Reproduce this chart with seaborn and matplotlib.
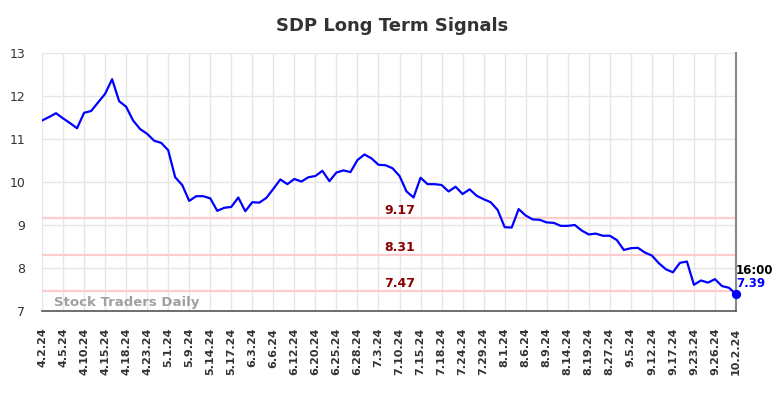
import numpy as np
import pandas as pd
import matplotlib
matplotlib.use("Agg")
import matplotlib.pyplot as plt
import seaborn as sns

# --- data ---
tick_labels = ["4.2.24", "4.5.24", "4.10.24", "4.15.24", "4.18.24", "4.23.24", "5.1.24",
               "5.9.24", "5.14.24", "5.17.24", "6.3.24", "6.6.24", "6.12.24", "6.20.24",
               "6.25.24", "6.28.24", "7.3.24", "7.10.24", "7.15.24", "7.18.24", "7.24.24",
               "7.29.24", "8.1.24", "8.6.24", "8.9.24", "8.14.24", "8.19.24", "8.27.24",
               "9.5.24", "9.12.24", "9.17.24", "9.23.24", "9.26.24", "10.2.24"]

prices = [11.43, 11.51, 11.60, 11.48, 11.37, 11.25, 11.61, 11.65, 11.85, 12.05,
          12.39, 11.88, 11.75, 11.43, 11.23, 11.12, 10.96, 10.91, 10.74, 10.11,
          9.93, 9.56, 9.67, 9.67, 9.62, 9.33, 9.40, 9.42, 9.64, 9.32,
          9.53, 9.52, 9.63, 9.84, 10.06, 9.95, 10.07, 10.01, 10.11, 10.14,
          10.26, 10.02, 10.22, 10.27, 10.23, 10.51, 10.64, 10.55, 10.40, 10.39,
          10.32, 10.14, 9.78, 9.64, 10.10, 9.95, 9.95, 9.93, 9.78, 9.89,
          9.72, 9.83, 9.68, 9.60, 9.53, 9.35, 8.95, 8.94, 9.37, 9.22,
          9.13, 9.12, 9.06, 9.05, 8.98, 8.98, 9.00, 8.87, 8.78, 8.80,
          8.75, 8.75, 8.65, 8.42, 8.46, 8.47, 8.36, 8.29, 8.11, 7.97,
          7.90, 8.12, 8.15, 7.61, 7.71, 7.66, 7.74, 7.58, 7.54, 7.39]

signal_levels = [9.17, 8.31, 7.47]
last_time = "16:00"
tick_step = 3

df = pd.DataFrame({"idx": np.arange(len(prices)), "price": prices})

sns.set_theme(style="whitegrid")
plt.rcParams["font.family"] = ["DejaVu Sans"]

fig = plt.figure(figsize=(7.84, 3.98), dpi=100)
ax = fig.add_axes([42 / 784, 1 - 311 / 398, (736 - 42) / 784, (311 - 53) / 398])

# signal lines with their labels
for lvl in signal_levels:
    ax.axhline(lvl, color="#ffcccc", linewidth=1.6, zorder=1)
    ax.text(51, lvl + 0.08, f"{lvl:.2f}", color="#8b0000", fontsize=9,
            fontweight="bold", ha="center", va="baseline", zorder=3)

sns.lineplot(data=df, x="idx", y="price", color="#0000ff", linewidth=1.6, ax=ax, zorder=2)

# last close marker + labels
last_i = len(prices) - 1
ax.scatter([last_i], [prices[-1]], color="#0000ff", s=32, zorder=4, clip_on=False)
ax.text(last_i, prices[-1] + 0.55, last_time, color="black", fontsize=8.5,
        fontweight="bold", ha="left", va="center")
ax.text(last_i, prices[-1] + 0.24, f"{prices[-1]:.2f}", color="#0000ff", fontsize=8.5,
        fontweight="bold", ha="left", va="center")

ax.text(1.7, 7.12, "Stock Traders Daily", color="#a0a0a0", fontsize=9.5,
        fontweight="bold", ha="left", va="baseline")

ax.set_xlim(0, last_i)
ax.set_ylim(7, 13)
ax.set_yticks([7, 8, 9, 10, 11, 12, 13])
ax.set_xticks(np.arange(0, len(prices), tick_step))
ax.set_xticklabels(tick_labels, rotation=90, fontsize=8, fontweight="bold", color="#333333")
ax.tick_params(axis="y", labelsize=9, colors="#333333", pad=12, length=0)
ax.tick_params(axis="x", pad=12, length=0)
ax.set_xlabel("")
ax.set_ylabel("")

ax.grid(True, color="#e6e6e6", linewidth=1)
for s in ["top", "left"]:
    ax.spines[s].set_visible(False)
ax.spines["bottom"].set_color("#555555")
ax.spines["bottom"].set_linewidth(1.2)
ax.spines["right"].set_color("#888888")
ax.spines["right"].set_linewidth(1.5)

fig.suptitle("SDP Long Term Signals", x=0.5, y=1 - 26 / 398, va="center",
             fontsize=13, fontweight="bold", color="#333333")

fig.savefig("out.png", dpi=100)
